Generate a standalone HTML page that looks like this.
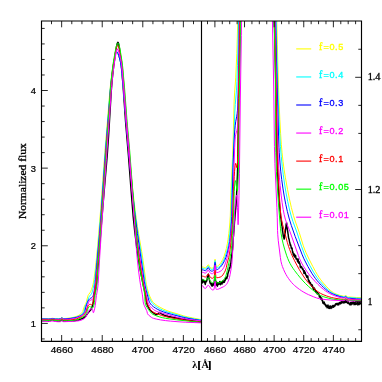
<!DOCTYPE html>
<html><head><meta charset="utf-8"><title>plot</title>
<style>html,body{margin:0;padding:0;background:#fff;}body{width:382px;height:382px;overflow:hidden;font-family:"Liberation Sans",sans-serif;}svg{display:block;}</style>
</head><body>
<svg width="382" height="382" viewBox="0 0 382 382" style="will-change:transform">
<rect width="382" height="382" fill="#fff"/>
<defs><clipPath id="cl"><rect x="41.50" y="21.00" width="160.00" height="320.30"/></clipPath>
<clipPath id="cr"><rect x="201.50" y="21.00" width="160.00" height="320.30"/></clipPath></defs>
<g clip-path="url(#cl)" fill="none" stroke-linejoin="round" stroke-linecap="round">
<path d="M39.34 320.46L39.95 320.71L40.76 320.45L41.16 320.73L41.47 320.55L41.57 320.64L41.87 320.54L42.07 320.66L42.28 320.47L42.58 320.57L42.89 320.87L43.39 320.63L44 320.83L44.51 320.50L44.61 320.34L44.81 320.39L45.22 320.74L45.73 320.44L45.93 320.59L46.84 320.46L47.55 320.75L47.86 320.64L48.06 320.86L48.46 321.01L49.28 320.58L49.48 320.65L49.68 320.50L49.88 320.62L50.49 320.53L51.41 319.98L51.61 320.04L52.52 319.59L52.83 319.62L53.33 320.10L53.74 320.29L53.94 320.24L55.06 320.82L55.26 320.78L55.67 320.93L55.77 320.82L55.97 320.92L56.27 320.85L56.48 320.98L56.78 321L56.98 321.19L57.59 320.88L58.10 321.25L58.91 321.17L59.11 320.93L59.52 320.95L59.72 321.06L60.03 320.86L60.64 320.86L61.24 320.27L61.95 319.96L62.56 320.57L62.97 320.66L63.48 321.11L63.88 320.92L63.98 320.78L64.49 320.75L64.59 320.93L65.10 321.25L65.30 321.02L65.81 320.78L65.91 320.88L66.52 320.92L66.62 321.03L66.72 320.89L67.03 320.80L67.74 320.96L68.04 320.69L68.34 320.71L68.55 320.60L68.65 320.75L69.16 321.05L69.46 320.85L69.76 320.85L69.87 320.74L70.07 320.94L70.68 320.66L70.98 320.68L71.08 320.85L71.49 320.95L71.89 320.58L72.20 320.76L72.50 320.76L72.91 320.52L73.21 320.71L73.42 320.64L73.52 320.76L74.02 320.52L74.23 320.52L74.63 320.71L74.84 320.61L74.94 320.43L75.65 320.50L76.05 320.26L76.36 320.31L76.86 320.04L77.27 320.09L77.37 320.02L77.47 320.12L77.78 320.09L77.98 320.19L78.79 319.84L78.99 319.92L79.50 319.42L80.01 319.41L80.31 319.14L80.92 319.13L81.43 318.71L82.14 318.67L82.34 318.76L82.85 318.17L83.25 318.08L83.46 318.15L84.06 317.32L84.37 317.31L84.57 317.20L84.98 316.75L85.79 316.16L86.19 315.66L86.90 314.43L87.11 314.32L87.51 313.64L88.53 312.32L88.73 312.19L89.34 311.32L89.74 310.99L89.85 310.75L90.25 310.44L90.35 310.20L90.45 310.20L90.96 309.56L92.48 305.85L92.79 304.87L93.29 301.94L94.11 295.43L94.61 292.85L95.12 291.17L96.03 287.08L96.54 283.73L97.05 278.78L101.92 217.43L107.19 155.73L108.61 135.47L111.25 91.12L112.26 78.73L113.68 66.02L115.71 51.44L116.32 47.73L117.03 44.17L117.43 43.03L117.84 42.31L118.04 42.42L118.35 42.86L118.65 43.81L119.46 48.47L120.98 61.20L121.80 69.39L123.42 90.59L125.55 121.23L128.49 156.13L131.94 201.13L133.26 217.14L134.78 231.62L137.31 251.82L139.44 265.56L141.07 274.31L145.22 293.98L145.73 296.83L146.44 301.84L147.05 304.30L147.35 305.21L147.66 305.69L147.96 306.47L148.57 307.40L148.98 308.36L149.59 309.14L149.79 309.61L150.19 310.16L150.90 310.88L151.21 311.05L151.82 311.80L152.12 311.86L152.63 312.37L152.73 312.32L152.93 312.45L153.34 312.90L153.64 312.97L154.25 313.61L154.66 313.78L155.47 314.43L155.98 314.58L156.08 314.51L156.48 314.73L156.58 314.61L156.69 314.67L156.99 314.50L157.40 314.08L158 313.84L158.31 313.38L158.61 313.32L158.71 313.14L159.02 312.98L159.22 312.64L159.83 312.46L160.24 312.72L160.44 313.07L160.84 313.43L162.06 314.10L162.37 314.44L162.67 314.62L163.38 314.79L164.09 315.25L164.49 315.26L164.80 315.57L165.51 315.55L166.12 315.92L166.22 315.90L166.32 316.05L166.62 315.93L166.83 316.03L166.93 315.92L167.03 316.04L167.44 316L167.54 316.25L167.64 316.23L168.04 316.58L168.25 316.49L168.55 316.52L168.86 316.85L169.06 316.91L169.26 316.77L169.57 316.81L169.87 317.07L169.97 316.92L170.17 316.91L170.28 316.79L170.68 316.94L170.88 317.20L171.09 317.13L171.19 317.23L171.29 317.06L171.49 316.98L171.80 317.03L171.90 317.16L172.20 317.02L172.81 317.48L172.91 317.42L173.72 317.52L174.33 317.49L174.94 317.88L175.25 317.62L175.35 317.66L175.65 317.49L175.85 317.75L176.06 317.79L176.26 317.97L176.46 317.91L176.67 318.09L176.87 317.93L177.27 317.89L177.68 318.18L178.19 318.15L178.59 318.61L178.80 318.62L179 318.49L179.40 318.69L180.01 318.54L180.32 318.67L180.82 318.61L181.53 318.90L182.45 318.88L182.85 319.13L183.36 319.20L183.66 319.50L183.97 319.37L184.17 319.12L184.37 319.32L184.68 319.40L185.19 319.30L185.79 319.58L186.71 319.83L186.81 319.75L187.01 319.85L187.11 319.75L187.32 319.82L187.42 320L187.82 320.02L188.13 319.91L188.23 319.98L188.33 319.88L188.84 319.84L189.65 320.46L189.75 320.34L189.95 320.36L190.56 320.69L190.87 320.51L191.58 320.86L191.78 320.70L192.18 320.73L192.29 320.87L192.49 320.76L192.89 320.89L193 321.01L193.10 320.97L193.20 321.08L193.71 321.12L193.81 321.01L194.31 321.26L194.52 321.16L194.72 321.21L194.92 321.07L195.13 321.27L195.43 321.21L195.63 321.44L195.73 321.33L195.84 321.36L196.04 321.58L196.34 321.47L196.85 321.76L197.46 321.47L197.66 321.64L198.07 321.71L198.17 321.64L198.27 321.72L198.47 321.65L198.78 321.73L198.88 321.66L199.49 322.05L200.10 321.88L200.60 322.15L200.91 322.03L201.62 322.15L201.92 322.31L202.02 322.20L202.23 322.25L202.33 322.17L202.43 322.27L202.53 322.17L203.04 322.25L203.24 322.38L203.75 322.29L204.46 322.57" stroke="#000000" stroke-width="1.45"/>
<path d="M39.34 318.60L45.12 318.60L48.67 318.71L50.29 318.60L52.52 318.28L55.56 318.71L58.51 318.74L60.43 318.54L60.84 318.32L61.55 317.65L61.85 317.52L62.16 317.64L62.97 318.35L63.37 318.50L64.29 318.53L66.11 318.43L69.97 317.99L73.62 317.28L76.76 316.26L78.99 315.21L80.21 314.36L81.33 313.41L82.24 312.38L82.75 311.53L83.86 307.50L84.47 306.06L85.79 303.43L86.40 301.85L87.61 296.93L88.02 295.64L88.63 294.51L89.95 292.81L90.56 291.75L91.47 289.62L92.38 286.86L93.09 284.17L93.50 282.16L94.71 273.89L96.03 262.80L97.45 248L100.39 213.01L105.16 148.36L107.70 118.20L109.52 95.15L110.33 86.36L111.96 72.69L113.28 64.07L114.59 57.65L115.30 54.64L115.91 52.85L116.22 52.36L116.52 52.20L117.03 52.43L117.54 53.07L118.04 54.06L118.65 55.64L119.46 58.29L120.38 61.79L120.98 65.23L121.69 71.44L123.72 92.41L128.39 144.97L130.72 169.73L132.55 187.69L134.78 207.26L136.10 217.57L137.41 226.60L141.67 251.39L143.09 260.30L145.93 281.78L146.44 284.59L147.25 288.21L148.77 293.69L149.69 296.15L151.11 299.17L152.32 301.21L153.44 302.57L155.16 304.15L157.19 305.61L160.84 307.71L163.89 309.25L166.93 310.59L169.97 311.72L176.87 313.72L183.77 315.95L187.62 316.88L192.69 317.92L199.28 319.18L204.46 320.05" stroke="#ffff00" stroke-width="1.00"/>
<path d="M39.34 318.78L45.12 318.78L48.67 318.89L50.29 318.78L52.52 318.46L55.56 318.89L58.51 318.92L60.43 318.72L60.84 318.51L61.55 317.84L61.85 317.71L62.16 317.83L62.97 318.54L63.48 318.71L65.10 318.71L68.04 318.52L71.69 318.02L75.04 317.33L77.78 316.50L80.01 315.56L81.02 314.93L82.04 314.07L82.95 313.02L83.66 311.94L83.96 311.15L84.57 308.27L84.98 306.99L87.11 302.18L88.73 297.54L89.44 296.24L90.86 294.63L91.47 293.75L91.98 292.65L92.48 291.11L93.19 288.30L93.90 284.86L94.71 279.44L96.54 262.78L98.26 244.30L100.70 214.56L105.26 150.74L107.90 119.21L109.62 96.30L110.44 86.84L111.86 74.38L113.28 64.60L115.30 54.27L115.91 52.35L116.22 51.88L116.42 51.80L116.93 52.03L117.43 52.66L118.04 53.87L118.65 55.52L119.46 58.23L120.48 62.22L121.09 65.99L121.80 72.40L123.52 90.45L127.47 136.38L130.52 169.34L132.44 188.70L134.88 210.68L137.01 226.99L141.98 258.84L145.02 281.16L145.53 284.07L146.44 288.34L147.35 291.99L148.17 294.71L149.28 297.70L150.50 300.36L151.51 302.06L152.83 303.64L154.56 305.27L156.58 306.78L159.42 308.51L162.37 310L165 311.11L167.64 312.03L173.62 313.70L180.32 315.75L184.88 316.97L188.63 317.80L194.72 318.96L199.69 319.79L204.46 320.46" stroke="#00ffff" stroke-width="1.00"/>
<path d="M39.34 319L45.12 319L48.67 319.11L50.29 319L52.52 318.68L55.56 319.12L58.51 319.16L60.43 318.96L60.84 318.75L61.55 318.08L61.85 317.95L62.16 318.07L62.97 318.78L63.37 318.94L65.91 318.90L70.17 318.50L74.33 317.83L77.17 317.15L80.01 316.10L81.53 315.32L82.64 314.52L83.35 313.78L84.37 312.36L84.88 311.32L85.59 308.07L86.60 304.49L87.31 302.65L88.12 300.90L88.83 299.74L89.54 298.97L90.25 298.43L91.77 297.61L92.48 297.01L92.89 296.51L93.19 295.69L94.21 290.69L95.22 283.13L99.58 233.57L101.51 208.55L105.67 150.15L110.54 87.31L111.75 76.41L113.17 66.27L115.30 53.97L115.81 52.02L116.12 51.41L116.32 51.30L116.83 51.53L117.43 52.33L118.04 53.63L118.65 55.34L119.46 58.15L120.48 62.22L121.09 65.99L121.90 73.37L123.42 89.49L126.87 131.49L130.11 167.68L132.44 191.45L134.98 214.47L137.41 233.37L144.21 281.16L144.92 285.09L145.93 289.67L148.98 300.92L149.48 302.22L150.60 303.94L151.82 305.33L153.34 306.64L155.57 308.19L157.80 309.47L160.34 310.67L163.48 311.92L166.22 312.82L171.49 314.34L183.56 317.46L189.04 318.54L194.42 319.47L199.49 320.21L204.46 320.81" stroke="#0000ff" stroke-width="1.00"/>
<path d="M39.34 319.34L45.02 319.33L48.77 319.44L50.29 319.33L52.52 319.02L55.67 319.47L58.61 319.51L60.53 319.30L60.94 319.05L61.55 318.46L61.85 318.34L62.16 318.45L62.97 319.17L63.48 319.34L68.14 319.25L70.98 319.06L73.72 318.69L76.15 318.07L78.18 317.37L80.92 316.06L82.14 315.36L84.27 313.59L85.28 312.52L85.99 311.30L87.72 304.90L88.63 302.32L89.14 301.19L89.44 300.76L90.05 300.32L91.77 299.71L92.38 299.38L92.89 298.94L93.19 298.24L93.90 295.18L94.31 292.98L95.63 283.26L97.05 268.62L98.47 252.31L101.21 217.70L103.34 188.25L105.87 151.31L108.41 119.13L110.03 96.25L110.84 86.42L112.26 73.97L113.68 64.37L115.30 55.64L116.01 52.31L116.72 50.05L117.03 49.55L117.33 49.40L117.84 49.72L118.35 50.55L118.85 51.83L119.46 53.88L120.27 57.32L121.19 61.84L121.80 66.36L123.62 88.18L125.65 115.99L126.56 127.22L133.26 205.08L134.27 215.83L135.28 224.87L137.31 240.20L143.09 279.37L144.31 286.10L146.54 295.69L147.86 302.18L148.57 303.86L149.48 305.46L150.40 306.65L151.82 308.10L153.34 309.39L154.96 310.51L156.58 311.37L158.41 312.08L164.39 313.68L176.16 317.05L179.51 317.87L184.68 318.78L190.36 319.60L196.55 320.35L204.46 321.16" stroke="#ff00ff" stroke-width="1.00"/>
<path d="M39.34 319.88L45.02 319.87L48.77 319.98L50.29 319.87L52.52 319.56L55.77 320.05L59.01 320.15L60.53 319.98L60.94 319.74L61.55 319.16L61.85 319.04L62.16 319.16L62.97 319.89L63.37 320.04L67.33 320.04L70.27 319.93L72 319.77L75.04 319.29L76.76 318.86L81.12 317.01L82.44 316.22L83.46 315.39L85.08 313.50L85.69 312.55L86.50 310.56L87.51 307.45L88.43 305.54L89.24 304.64L89.85 304.27L90.35 304.31L91.57 304.83L91.98 304.81L92.48 304.23L93.09 302.84L94 295.29L95.53 286.95L96.13 282.49L98.67 254.11L101.10 222.97L105.97 152.89L108.51 120.63L110.33 93.98L111.15 84.05L112.06 75.02L112.87 68.10L113.48 63.73L114.80 55.68L115.61 51.09L116.32 47.89L116.93 46.10L117.23 45.64L117.54 45.50L117.74 45.57L118.04 45.87L118.55 46.82L119.16 48.63L119.77 51.06L120.68 55.59L121.80 62.01L122.40 66.93L124.33 89.80L126.56 119.41L129.30 151.10L133.76 206.90L135.08 221.32L137.11 240.36L139.24 257.70L141.57 273.86L143.40 284.59L145.63 295.07L146.64 301.51L146.95 302.75L147.56 304.43L148.37 306.05L150.60 309.72L151.31 310.69L151.92 311.33L152.93 312.02L154.25 312.67L161.55 315.43L165.10 316.46L169.36 317.45L175.85 318.70L182.04 319.74L186.81 320.43L191.37 320.96L198.37 321.65L204.46 322.13" stroke="#ff0000" stroke-width="1.00"/>
<path d="M39.34 320.38L45.02 320.37L48.77 320.47L50.29 320.37L52.52 320.05L55.97 320.62L58 320.76L59.62 320.76L60.64 320.61L61.55 319.85L61.85 319.73L62.16 319.86L62.97 320.59L63.37 320.75L67.33 320.77L72.91 320.44L74.94 320.18L76.66 319.83L78.59 319.11L80.41 318.18L82.14 317.45L83.15 316.88L84.06 316.20L84.77 315.45L85.38 314.25L86.19 313.28L86.60 312.64L87.41 310.68L88.12 308.15L88.83 307.10L89.34 306.69L89.85 306.66L90.45 306.95L91.77 307.89L92.48 308.11L92.69 307.98L92.99 307.47L93.90 305.22L94.21 303.99L94.41 302.64L95.12 295.10L96.44 287.76L96.95 283.39L98.06 264.35L100.50 233.18L101.92 213.61L108.41 120.07L110.13 93.21L110.84 84.19L111.75 74.81L112.57 67.74L113.17 63.37L114.59 54.89L115.61 49.39L116.42 45.89L116.83 44.58L117.23 43.64L117.64 43.10L117.94 43L118.35 43.32L118.85 44.41L119.36 46.15L119.97 48.95L120.78 53.56L122.10 62.11L122.71 67.13L124.63 89.05L127.07 121.19L129.71 150.78L133.15 196.17L137.92 252.36L138.83 260.66L140.05 269.09L142.89 285.15L143.91 289.47L144.31 291.71L144.82 296.15L145.02 301.82L145.12 302.73L145.53 304.48L146.14 305.96L146.95 307.10L148.27 309.27L149.79 311.29L151.61 313.40L152.83 314.26L154.35 315.05L156.58 315.93L159.12 316.78L162.26 317.62L165.71 318.32L169.77 318.95L176.56 319.84L188.84 321.19L204.46 322.44" stroke="#00ff00" stroke-width="1.00"/>
<path d="M39.34 321.12L41.37 321.06L44.10 321.14L48.36 321.59L51.61 321.17L52.62 321.13L57.19 321.71L59.22 321.76L60.53 321.64L60.94 321.36L61.55 320.70L61.85 320.56L62.16 320.69L63.07 321.56L63.88 321.71L73.52 321.32L78.28 320.89L80.11 320.50L81.83 319.96L84.06 318.72L84.88 318.11L85.59 317.19L87.92 312.98L89.24 310L89.54 309.67L90.45 309.04L91.27 308.70L91.87 308.67L92.18 309.12L92.69 310.38L93.29 312.62L93.40 312.75L93.50 312.72L93.80 311.97L94.71 308.31L95.22 305.63L96.44 295.50L97.66 288.11L98.16 283.57L99.79 255.70L102.02 221.38L106.38 159.32L111.65 86.34L112.97 73.58L114.19 64.28L116.22 51.90L116.83 49.62L117.13 49.08L117.33 49L117.84 49.34L118.45 50.47L119.06 52.25L119.67 54.57L121.29 62.38L122.10 68.77L123.92 88.92L126.36 119.59L129.20 151.65L131.94 189.09L134.57 223.32L136.30 247.54L137.11 257.50L138.33 268.98L139.65 279.16L140.66 285.81L142.28 294.17L142.69 296.98L143.20 301.91L143.70 303.97L144.21 305.30L146.64 310.59L147.05 311.79L147.46 313.57L147.76 314.14L148.47 314.97L151.41 317.35L152.22 317.86L153.44 318.33L156.69 319.16L160.34 319.86L165.41 320.59L170.58 321.14L177.98 321.73L185.69 322.22L204.46 322.98" stroke="#ff00ff" stroke-width="1.00"/>
</g>
<g clip-path="url(#cr)" fill="none" stroke-linejoin="round" stroke-linecap="round">
<path d="M198.61 280.48L198.68 281.07L198.83 281.27L198.98 282.20L199.05 282.24L199.13 281.80L199.20 282.13L199.42 280.68L199.57 280.63L199.65 280.38L199.94 282.41L200.02 282.34L200.16 281.13L200.24 281.77L200.39 281.07L200.46 281.06L200.61 281.92L200.76 280.51L200.83 281.10L200.98 281.27L201.20 283.45L201.27 282.70L201.35 282.54L201.42 282.80L201.57 281.65L201.72 282.43L201.79 282.58L201.87 282.35L201.94 282.54L202.02 283.15L202.39 280.76L202.46 279.58L202.61 279.92L202.90 282.47L202.98 281.71L203.05 282.05L203.13 280.92L203.20 280.96L203.27 280.33L203.42 281.42L203.57 281.23L203.64 281.37L203.72 281.17L203.79 281.31L203.87 280.45L203.94 280.47L204.01 280.92L204.09 280.43L204.38 281.92L204.53 282.15L204.61 282.53L204.83 281.78L204.98 283.31L205.13 283.62L205.27 284.46L205.42 283.30L205.57 282.58L205.64 282.67L205.72 282.42L205.87 281.32L206.01 281.82L206.16 280.74L206.31 281.64L206.46 280.98L206.53 280.91L206.61 281.30L206.75 280.95L206.83 280.24L206.90 280.39L206.98 280.03L207.42 277.01L207.57 277.39L207.64 276.65L207.72 276.60L208.24 274.15L208.31 274.48L208.38 274.24L208.46 274.37L208.83 277.84L209.12 279.22L209.20 278.89L209.27 278.89L210.09 283.06L210.23 282.73L210.53 283.84L210.61 283.04L210.75 283.78L210.83 283.43L210.90 283.76L210.98 283.30L211.12 284.18L211.20 283.91L211.27 284.58L211.35 284.34L211.49 285.75L211.94 283.48L212.01 283.52L212.31 286.14L212.38 285.80L212.46 285.96L212.53 285.51L212.60 285.71L212.68 285.44L212.90 285.58L213.05 283.87L213.12 283.85L213.27 284.31L213.34 284L213.49 284.82L213.72 283.37L213.79 283.39L213.86 283.17L214.01 283.58L214.09 283.17L214.16 283.38L214.60 279.05L214.68 279.03L214.83 277.93L214.90 278.03L214.97 277.23L215.05 277.32L215.12 276.81L215.57 281.24L215.64 281.19L215.71 281.72L215.79 281.59L215.86 281.91L216.23 285.15L216.53 283.76L216.68 282.52L216.90 282.76L216.97 282.54L217.05 283.87L217.42 286.15L217.57 284.49L217.94 282.80L218.01 283.50L218.08 283.14L218.23 283.65L218.31 283.49L218.38 284.08L218.45 283.81L218.53 284.55L218.60 283.53L218.68 283.56L218.82 282.89L218.90 282.89L219.12 283.91L219.34 284.04L219.57 282.09L219.64 282.21L219.79 282.23L219.86 281.53L219.94 281.47L220.01 282.56L220.23 283.37L220.38 284.71L220.45 284.66L220.60 283.30L220.75 283.02L220.82 283.30L220.90 282.45L221.05 283.90L221.19 283.08L221.34 282.96L221.49 281.93L221.64 282.26L221.71 282.07L221.79 283.27L221.86 283.22L221.93 283.90L222.01 283.60L222.08 284.02L222.38 281.32L222.60 282.61L222.68 282.39L222.82 282.60L223.12 280.91L223.34 282.24L223.49 281.77L223.56 282.63L223.64 282.36L223.71 282.36L223.93 280.90L224.01 281.03L224.08 280.88L224.23 281.16L224.38 282.26L224.45 281.58L224.53 281.56L224.60 280.22L224.75 280L224.90 280.59L225.04 280.79L225.12 280.73L225.42 279.04L225.49 279.10L225.56 278.83L225.64 279.38L225.71 278.53L226.01 277.43L226.16 277.74L226.23 277.65L226.30 277.80L226.38 277.28L226.45 277.98L226.53 277.81L226.60 278.15L226.67 277.78L226.75 278.30L226.82 278.48L226.90 278.37L227.19 276.98L227.27 276.99L227.41 275.94L227.56 276.54L227.93 272.96L228.15 272.58L228.30 272.85L228.53 270.91L228.60 270.80L228.67 271.10L228.82 270.66L228.97 270.88L229.34 267.84L229.49 267.96L229.56 267.51L229.71 267.78L229.86 267.54L230.01 268.13L230.38 263.91L230.52 263.68L230.60 263.86L230.67 263.27L230.82 263.73L231.27 257.74L231.34 257.96L231.41 257.57L231.49 257.70L231.56 256.86L231.64 256.91L231.93 253.66L232.52 249.37L232.82 245.75L233.34 236.85L233.49 236.08L234.52 221.65L234.67 220.72L235.12 214.42L235.41 212L235.49 210.31L235.56 210.25L235.78 208.01L235.86 206.29L235.93 206.28L236.30 201.71L237.41 174.88L237.63 167.82L237.93 151.76L238.60 99.56L238.97 80.93L239.34 68.79L240 39.26L240.67 -9L273.77 -9L275.92 89.09L276.81 145.89L277.47 170.22L277.92 179.32L278.36 186.08L278.66 193.02L279.10 198.61L279.55 206.02L280.06 211.23L280.29 212.46L280.73 217.88L280.80 217.73L280.95 218.29L281.32 222L281.40 221.60L281.55 222.60L281.84 225.80L281.92 225.77L281.99 225.91L282.06 226.35L282.51 230.99L282.58 230.93L282.80 232.20L283.40 236.85L283.54 236.90L283.77 237.95L283.84 237.46L283.99 238.71L284.06 238.72L284.14 239.07L284.21 238.21L284.28 238.59L284.51 237.41L284.80 234.35L285.10 232.77L285.17 233.09L285.25 232.63L285.47 229.31L285.69 228.83L285.77 227.54L285.99 226.43L286.14 223.96L286.21 224.04L286.28 223.89L286.58 222.68L286.88 224.52L287.02 227.08L287.17 227.82L287.32 229.66L287.39 229.70L287.62 230.88L288.06 234.14L288.21 234.46L288.43 236.94L288.65 238.23L288.80 238.43L288.88 238.38L288.95 239.07L289.10 239.53L289.17 239.49L289.69 242.79L289.76 242.58L289.84 242.96L289.91 242.70L289.99 242.90L290.21 245.12L290.36 245.45L290.51 244.69L290.58 245.41L290.73 244.99L290.95 246.34L291.02 246.26L291.17 247.62L291.25 247.49L291.32 248.56L291.54 247.69L291.69 248.45L291.76 247.67L291.84 248.53L291.91 248.63L292.06 248.56L292.13 248.22L292.21 250.04L292.28 249.92L292.58 252.44L292.73 251.75L292.80 252.05L292.87 251.78L292.95 252L293.17 254.37L293.24 254.35L293.32 254.79L293.47 253.80L293.54 253.82L293.62 254.14L293.69 254.07L293.91 255.97L293.99 254.88L294.13 254.80L294.21 253.90L294.50 254.99L294.65 256.89L294.80 256.42L294.87 257.13L294.95 255.89L295.10 255.28L295.17 255.63L295.32 255.70L295.39 256.64L295.61 255.57L296.06 258.95L296.13 258.46L296.21 258.56L296.28 258.52L296.58 259.06L296.65 258.76L296.73 259.21L296.95 258.92L297.02 259.36L297.17 259L297.39 260.88L297.47 260.79L297.61 261.82L297.84 259.91L297.91 260.20L297.98 259.47L298.13 259.02L298.28 260.85L298.35 260.79L298.43 261.14L298.58 262.48L298.65 262.45L298.72 261.99L298.87 263.34L299.02 262.21L299.17 262.38L299.32 261.91L299.61 263.99L299.69 263.82L299.76 264.03L299.84 263.82L299.91 264.08L299.98 263.79L300.28 267.11L300.35 266.85L300.43 267.14L300.58 266.20L300.65 266.70L300.72 266.54L300.87 267.67L300.95 267.17L301.02 267.54L301.09 266.86L301.32 266.55L301.54 267.54L301.61 267.18L301.69 267.58L301.91 267.10L302.06 268.02L302.28 268.39L302.43 269.20L302.58 268.91L302.65 269.23L302.72 269.21L302.87 268.72L303.02 269.13L303.09 269.01L303.39 270.81L303.46 270.70L303.54 270.74L303.76 271.37L303.98 273.52L304.20 272.54L304.35 270.78L304.50 272.22L304.57 272.45L304.65 272.34L304.72 272.81L304.87 272.69L304.94 271.94L305.09 272.08L305.54 274.13L305.61 273.94L305.83 275.03L305.91 275.18L305.98 275.01L306.20 275.91L306.28 275.33L306.43 276.05L306.50 275.36L306.65 275.85L306.72 277.15L306.87 276.95L306.94 277.25L307.02 277.25L307.24 276.45L307.31 276.97L307.39 276.24L307.46 276.60L307.61 275.88L307.68 276.19L307.76 275.98L307.83 277.03L307.91 276.61L307.98 278L308.35 280.45L308.43 279.60L308.50 280.07L308.57 279.73L308.80 281.39L309.02 282.11L309.24 280.78L309.54 282.71L309.76 283.37L309.91 282.21L310.05 282.75L310.20 282.43L310.28 283.44L310.42 282.66L310.57 283.53L310.72 283.55L310.79 284.40L310.87 284.12L310.94 284.95L311.09 285.25L311.24 284.97L311.31 285.26L311.39 284.42L311.76 286.22L311.91 285.53L311.98 285.90L312.05 285.91L312.20 284.85L312.35 286.32L312.50 286.19L312.57 285.90L312.72 287.52L312.79 286.77L312.87 286.99L313.02 288.54L313.16 287.73L313.24 287.77L313.39 288.66L313.53 288.98L313.61 289.84L313.68 289.88L313.76 289.07L313.98 288.53L314.05 287.76L314.20 288.99L314.28 288.85L314.50 289.48L314.57 288.97L314.65 289.55L314.79 289.06L315.02 289.65L315.09 289.11L315.53 291.96L315.76 291.64L315.90 290.70L315.98 290.75L316.35 292.69L316.57 291.80L316.72 292.25L316.79 292.03L316.87 292.09L316.94 292.80L317.01 293L317.09 292.70L317.16 293.53L317.24 293.19L317.31 293.85L317.39 293L317.53 293.36L317.61 292.83L317.68 293.57L317.76 292.81L317.83 292.83L317.98 293.38L318.05 293.44L318.13 293.37L318.20 294.29L318.27 294.36L318.42 294.24L318.57 293.61L318.64 293.65L318.87 294.93L318.94 294.70L319.01 295.21L319.09 294.92L319.16 295.67L319.31 295.12L319.38 297L319.53 297.07L319.61 296.56L319.68 296.52L319.75 296.99L319.83 296.13L320.05 297.15L320.13 296.64L320.20 296.74L320.35 296.53L320.57 298.18L320.64 298.17L320.79 299.05L320.87 299.02L320.94 298.53L321.16 299.06L321.24 298.28L321.31 298.27L321.38 299.18L321.61 297.94L321.75 299.66L321.83 298.90L322.05 300.55L322.20 299.16L322.42 300.45L322.49 300.45L322.86 303.10L322.94 303.14L323.01 302.86L323.09 302.19L323.24 302.67L323.31 302.02L323.61 303.69L323.68 302.50L323.90 303.50L324.05 302.25L324.12 303.09L324.20 302.97L324.27 303.01L324.35 302.28L324.42 303.44L324.49 303.22L324.94 304.76L325.01 304.47L325.23 304.76L325.31 304.42L325.53 304.87L325.60 304.53L325.75 305.71L325.83 305.55L326.05 306.60L326.20 305.83L326.27 306.19L326.42 305.64L326.57 306.03L326.64 305.52L326.79 305.58L327.16 307.76L327.46 306.71L327.53 306.83L327.68 305.40L327.75 305.64L327.83 305.38L327.90 305.49L327.97 304.87L328.12 307.05L328.20 306.79L328.42 307.82L328.49 307.89L328.71 306.57L328.79 306.83L328.94 306.37L329.16 308.41L329.23 308.13L329.31 308.38L329.46 308.06L329.53 308.28L329.75 306.65L329.90 306.45L329.97 306.02L330.12 306.67L330.20 306.51L330.27 306.87L330.34 305.94L330.49 306.56L330.57 306.47L330.64 307.29L330.71 307.18L331.01 308.44L331.16 307.62L331.23 307.76L331.38 306.91L331.53 306.58L331.82 307.85L331.90 307.15L332.20 306.05L332.34 307.06L332.42 306.88L332.49 307.08L332.57 307.01L332.79 305.57L332.86 306L333.01 305.74L333.08 306.32L333.23 305.58L333.60 307.18L333.90 306.26L333.97 306.67L334.05 306.27L334.12 306.35L334.19 305.65L334.34 305.95L334.42 305.23L334.56 306.07L334.64 306.20L334.79 305.66L334.86 306.03L335.01 305.20L335.08 305.68L335.23 305.04L335.38 304.93L335.53 303.93L335.68 304.74L335.75 304.07L335.82 304.68L335.90 304.63L335.97 304.75L336.12 304.10L336.19 304.35L336.27 303.59L336.34 304.10L336.49 303.80L336.56 304.04L336.64 303.89L336.79 304.17L336.86 303.96L336.93 303.97L337.01 303.63L337.08 303.59L337.30 304.10L337.38 303.60L337.45 303.89L337.67 303.55L337.82 304.79L337.90 304.72L337.97 304.99L338.12 304.58L338.19 304.64L338.27 303.45L338.34 303.99L338.42 303.89L338.56 304.53L338.64 303.81L338.71 304.80L338.79 304.24L338.86 304.25L339.01 303.58L339.08 303.66L339.16 302.99L339.38 302.42L339.53 303.11L339.60 302.98L339.67 303.17L339.75 302.89L339.90 303.55L339.97 302.76L340.27 303.89L340.34 303.05L340.41 303.68L340.56 302.69L340.64 303.60L340.71 303.11L340.79 303.62L341.08 302.15L341.16 302.14L341.23 301.29L341.38 300.95L341.67 303.05L341.75 303.09L341.82 302.42L342.19 301.13L342.27 302.06L342.34 301.92L342.41 301.10L342.49 301.13L342.64 302L342.71 301.90L342.93 302.53L343.01 302.24L343.08 302.32L343.23 301.28L343.45 302.64L343.52 302.19L343.60 302.22L343.75 302.92L343.82 302.24L343.97 301.82L344.04 302.49L344.19 301.97L344.41 302.85L344.64 301.84L344.71 300.87L344.86 300.84L344.93 300.60L345.01 301.71L345.08 301.67L345.15 302.43L345.67 299.73L345.75 300.15L345.97 300.23L346.41 302.58L346.63 301.60L346.71 301.56L346.86 300.63L346.93 300.50L347.01 300.75L347.08 300.28L347.23 300.75L347.30 301.61L347.38 301.28L347.52 302.24L347.60 301.70L347.67 302.07L347.75 302.02L347.82 303.39L347.89 303.42L347.97 302.83L348.04 303.21L348.26 301.59L348.41 302.63L348.49 302.47L348.63 303.27L348.78 302.60L348.93 303.30L349 303.05L349.23 304.12L349.30 303.75L349.37 303.70L349.52 304.07L349.67 303.63L349.89 304.78L350.04 304.57L350.26 303.30L350.34 303.32L350.56 302.60L350.71 302.89L350.78 302.69L351.08 304.87L351.30 303.69L351.37 303.72L351.52 302.51L351.67 303.64L351.89 302.29L352.04 302.57L352.11 301.90L352.34 303.91L352.48 303.03L352.56 302.87L352.63 303.09L352.71 303.06L352.78 302.27L353.08 303.14L353.15 302.05L353.23 302.48L353.30 302.14L353.37 302.64L353.45 302.67L353.52 301.81L353.74 303.82L353.82 304.01L353.89 303.75L354.04 304.67L354.26 302.42L354.34 303.28L354.41 303.23L354.48 302.25L354.71 304.19L354.93 304.32L355.22 302.34L355.52 304.29L355.67 304.52L355.97 303.59L356.11 304.37L356.19 303.80L356.26 303.59L356.34 303.93L356.41 303.84L356.56 303.06L356.63 303.61L356.71 303.64L356.78 303.13L357.08 303.27L357.15 303.16L357.22 303.79L357.45 302.26L357.59 303.02L357.67 302.95L357.82 304.48L357.96 304.93L358.11 304.20L358.19 304.24L358.26 303.65L358.33 303.86L358.41 303.40L358.56 303.47L358.78 302.62L358.93 302.94L359.15 304.61L359.37 303.01L359.45 303.22L359.59 302.49L359.82 303.78L359.89 303.14L360.04 303.44L360.19 303.03L360.41 302.91L360.63 303.51L360.70 303.33L360.85 303.68L360.93 303.51L361 304.01L361.07 303.58L361.15 303.73L361.30 303.13L361.37 303.18L361.44 302.87L361.52 302.85L361.59 302.20L361.82 301.91L362.04 302.74L362.11 302.70L362.63 305.37L362.78 304.04L362.85 304.15L362.93 303.73" stroke="#000000" stroke-width="1.45"/>
<path d="M198.61 267L202.83 267.04L203.57 267.21L204.83 267.79L205.42 267.82L206.01 267.55L206.61 267.03L207.79 265.04L208.01 264.79L208.24 264.71L208.61 265.01L209.64 266.85L210.46 267.79L210.90 268.04L211.49 268.16L212.09 268.17L212.60 268.03L213.64 267.26L214.01 266.56L214.31 265.02L214.83 260.16L215.05 259.24L215.27 260.06L215.86 265.18L216.16 266.27L216.46 266.55L216.97 266.49L217.64 266.15L218.45 265.49L220.16 263.71L221.27 262.16L222.75 259.41L224.01 256.48L225.19 252.79L226.38 248.36L227.34 243.78L228.01 239.62L228.82 233.45L229.41 228.01L229.93 222.05L230.30 215.95L231.12 186.76L232.52 157.36L232.97 145.97L234.15 101.07L234.60 92.91L235.78 77.15L236.82 53.61L237.78 21.25L238.37 -9L276.21 -9L276.29 -8.53L276.73 17.59L277.32 44.31L278.51 87.01L279.10 103.04L279.84 119.37L280.58 133.22L281.32 144.36L282.06 152.69L283.03 161.42L284.06 169.22L285.32 177.16L287.54 189.49L289.39 198.78L291.39 207.60L293.47 215.53L295.17 221L299.17 232.21L303.32 245.78L304.50 249L306.06 252.76L309.31 259.63L312.87 266.56L315.53 271.49L317.39 274.68L319.16 277.50L320.79 279.85L322.42 281.92L326.79 286.90L328.57 288.72L330.27 290.31L331.90 291.63L333.38 292.65L334.79 293.43L336.34 294.08L339.97 295.33L343.38 296.16L344.34 296.16L345.60 295.57L346.04 295.54L346.56 295.91L347.45 297.07L347.82 297.25L348.71 297.02L349.23 296.98L356.56 297.50L362.93 297.80" stroke="#ffff00" stroke-width="1.00"/>
<path d="M198.61 268.31L202.83 268.33L203.57 268.50L204.83 269.09L205.42 269.12L206.01 268.85L206.61 268.33L207.79 266.34L208.01 266.09L208.24 266.01L208.61 266.31L209.64 268.15L210.46 269.10L210.90 269.35L211.49 269.47L212.09 269.50L212.60 269.36L213.64 268.60L214.01 267.91L214.31 266.37L214.83 261.52L215.05 260.61L215.27 261.43L215.86 266.57L216.01 267.26L216.23 267.78L216.46 267.95L216.68 267.97L217.49 267.75L218.45 267.23L219.71 266.33L220.82 265L222.53 262.32L223.86 259.69L225.12 256.68L226.30 253.08L227.49 248.76L228.30 245.06L228.90 241.55L230.01 232L230.97 218.85L231.19 213.18L231.64 192.34L231.93 183.13L233.49 148.34L234.75 113.11L235.26 104.42L236.45 90.90L236.97 81.35L237.49 65.79L238 44.73L238.52 19.34L238.97 -9L275.62 -9L276.73 45.12L277.84 87.44L279.10 121.17L279.77 135.19L280.43 146.41L281.25 156.47L282.21 166.19L283.25 174.80L284.43 183.04L286.06 192.89L287.69 201.40L289.39 209.06L291.25 216.16L292.95 221.54L296.80 232L301.54 246.42L304.06 253.18L305.91 257.68L309.61 265.15L313.46 272.05L316.94 277.45L318.64 279.77L320.27 281.75L325.01 286.91L327.01 288.85L328.86 290.47L330.64 291.82L332.27 292.87L333.68 293.60L335.90 294.53L339.75 295.85L343.30 296.71L344.34 296.71L345.60 296.11L346.04 296.08L346.56 296.45L347.45 297.61L347.82 297.79L348.71 297.57L349.30 297.54L356.93 298.14L362.93 298.50" stroke="#00ffff" stroke-width="1.00"/>
<path d="M198.61 269.93L202.83 269.90L203.57 270.08L204.83 270.66L205.42 270.69L206.01 270.42L206.61 269.91L207.79 267.94L208.01 267.69L208.24 267.62L208.61 267.92L209.64 269.78L210.46 270.73L210.90 270.99L211.49 271.12L212.09 271.16L212.60 271.02L213.64 270.30L214.01 269.61L214.31 268.08L214.83 263.25L215.05 262.35L215.27 263.17L215.86 268.34L216.08 269.27L216.31 269.65L216.53 269.77L216.83 269.77L217.71 269.41L218.60 268.75L220.08 267.42L221.49 265.79L223.27 263.07L224.60 260.55L225.86 257.58L226.90 254.36L228.15 249.57L228.97 245.80L229.71 241.46L230.23 237.53L230.67 233.08L231.49 221.92L231.78 216.39L232.38 190.95L233.04 167.32L233.71 150.04L234.45 135.17L234.82 129.76L235.26 125.19L235.78 121.23L236.74 116.21L237.12 113.72L237.49 110.20L237.78 105.97L238.30 85.01L238.74 60.77L239.63 -9L275.03 -9L275.92 35.46L276.81 72.50L278.58 136.95L278.95 147.13L279.25 152.45L279.99 162.94L280.80 171.86L281.69 179.44L283.03 188.91L284.36 197.06L285.77 204.37L287.39 211.60L289.32 219.02L291.32 225.43L295.17 236.40L301.98 254.19L303.91 258.78L307.91 266.55L311.76 273.15L313.61 275.98L315.39 278.47L317.09 280.62L318.87 282.63L321.38 285.30L323.68 287.55L325.83 289.46L327.83 291.05L329.60 292.27L331.38 293.30L333.53 294.30L335.97 295.29L339.75 296.55L343.30 297.38L344.34 297.37L345.60 296.78L346.04 296.76L346.56 297.14L347.45 298.31L347.82 298.50L348.71 298.29L349.23 298.26L356.41 298.91L362.93 299.30" stroke="#0000ff" stroke-width="1.00"/>
<path d="M198.61 272.36L202.76 272.27L203.57 272.46L204.83 273.05L205.50 273.06L206.09 272.77L206.61 272.31L207.79 270.34L208.01 270.09L208.24 270.02L208.61 270.32L209.72 272.33L210.53 273.28L210.98 273.53L211.72 273.71L212.23 273.74L212.68 273.62L213.72 272.91L214.09 272.07L214.38 270.23L214.83 266.01L215.05 265.11L215.27 265.95L215.86 271.13L216.08 272.07L216.31 272.45L216.60 272.58L217.05 272.57L218.45 272.21L220.31 271.34L221.56 270.50L222.75 269.12L223.86 267.35L224.82 265.03L225.93 261.81L226.82 258.69L227.56 255.59L229.19 247.52L229.86 243.61L231.71 228.04L232.23 222.11L232.60 216.04L234 165.64L234.67 147.52L235.04 139.95L235.34 136.83L235.71 134.50L236.08 133.02L236.82 130.75L237.26 128.61L237.71 124.92L237.86 122.07L238.45 97.78L238.82 77.33L239.93 -8.70L240 -9L274.44 -9L275.40 39.07L276.95 104.79L277.69 142.93L278.29 158.96L278.81 168.61L279.40 177.12L280.14 185.38L281.17 195.07L282.14 202.67L283.17 209.42L284.21 214.75L285.32 219.11L286.80 223.60L289.91 231.47L298.43 255.64L299.61 258.73L300.65 261.10L302.06 263.77L303.76 266.72L307.17 271.95L310.79 276.69L314.94 281.32L318.05 284.47L320.72 287L323.16 289.13L325.46 290.93L327.46 292.29L329.31 293.35L331.97 294.61L334.71 295.75L339.01 297.19L341.08 297.72L343.08 298.10L344.27 298.13L345.60 297.51L346.04 297.49L346.56 297.87L347.45 299.04L347.82 299.23L348.71 299.01L349.23 298.99L355.82 299.56L362.93 299.90" stroke="#ff00ff" stroke-width="1.00"/>
<path d="M198.61 276.26L202.76 276.17L203.57 276.36L204.83 276.95L205.50 276.96L206.09 276.67L206.61 276.21L207.79 274.24L208.01 273.99L208.24 273.92L208.61 274.24L209.72 276.37L210.61 277.52L211.12 277.88L212.01 278.24L212.46 278.29L212.97 278.18L213.72 277.78L214.09 277.01L214.38 275.23L214.83 271.08L215.05 270.21L215.27 271.08L215.86 276.31L216.08 277.26L216.31 277.65L216.53 277.77L216.97 277.78L218.75 277.50L220.90 276.80L221.64 276.34L222.82 274.99L224.38 272.51L225.19 270.90L225.93 268.89L226.30 267.59L227.12 263.50L228.75 257.33L229.41 253.92L230.08 249.80L230.97 242.29L232.01 230.16L232.38 224.69L233.04 208.88L233.78 186.42L234.23 176.36L234.52 171.73L235.12 165.48L235.49 163.44L235.63 163.31L235.86 163.75L236.74 167.53L236.89 167.70L237.04 167.32L237.41 163.15L237.78 155.45L238 144.04L238.52 98.54L239.63 38.26L240.30 -9L273.99 -9L276.21 97.01L277.03 147.16L277.47 160.99L277.99 172.36L279.84 202.83L280.43 210.70L280.95 215.66L281.69 220.28L282.51 224.17L287.39 242.60L288.51 246.24L289.69 249.61L291.17 253.39L292.80 257.13L294.58 260.80L296.87 265.14L299.24 269.41L301.46 273.16L304.87 278.32L306.50 280.50L308.05 282.38L310.50 284.99L312.94 287.42L315.16 289.44L317.24 291.13L318.94 292.36L320.57 293.37L321.98 294.10L323.90 294.94L326.35 295.89L328.86 296.74L331.38 297.44L333.90 298.02L338.93 298.87L343.45 299.44L344.34 299.36L345.52 298.72L345.97 298.63L346.41 298.85L347.38 300.05L347.82 300.29L348.71 300.03L349.30 299.97L357.22 300.30L362.93 300.40" stroke="#ff0000" stroke-width="1.00"/>
<path d="M198.61 279.86L202.76 279.77L203.57 279.96L204.83 280.55L205.50 280.56L206.09 280.27L206.61 279.81L207.79 277.84L208.01 277.59L208.24 277.52L208.61 277.87L209.86 280.39L210.75 281.62L211.49 282.20L212.23 282.63L212.75 282.73L213.42 282.64L213.86 282.35L214.16 281.51L214.83 276.03L215.05 275.20L215.27 276.09L215.86 281.39L216.08 282.35L216.38 282.80L216.75 282.89L217.57 282.86L219.64 282.55L220.90 281.96L222.53 280.82L223.64 279.72L224.67 278.28L225.56 276.67L226.16 275.02L227.34 270.40L228.60 264L229.78 259.05L230.75 253.59L231.34 249.03L231.71 245.19L232.23 235.57L233.04 225.29L233.71 209.76L234.23 191.48L234.82 183.11L235.19 180.65L235.34 180.51L235.56 180.95L235.93 182.81L236.89 189.63L237.19 190.90L237.41 191.19L237.71 188L238.23 176.89L238.74 157.48L239.34 97.21L240.45 33.71L240.82 -9L273.55 -9L275.25 72.72L275.62 104.79L275.84 152.34L276.36 171.27L278.36 202.74L280.51 228.73L281.17 233.83L282.14 239.27L283.17 243.86L284.58 249.05L286.73 255.79L287.77 258.54L288.88 261.11L290.13 263.62L291.47 265.96L292.95 268.26L294.65 270.65L297.61 274.52L300.35 277.89L303.02 280.94L305.61 283.66L308.35 286.27L312.50 289.83L315.39 292.16L317.83 293.91L320.79 295.62L323.90 296.83L328.86 298.31L333.53 299.26L338.19 299.78L343.45 300.16L344.34 300.04L345.52 299.35L345.97 299.24L346.41 299.45L347.38 300.61L347.82 300.83L348.78 300.53L349.37 300.48L362.93 300.80" stroke="#00ff00" stroke-width="1.00"/>
<path d="M198.61 285.23L199.35 284.89L200.09 284.80L200.98 284.95L202.09 285.34L202.76 285.93L204.38 288.13L204.83 288.49L205.20 288.60L205.57 288.45L205.94 288.07L207.57 285.59L207.94 285.33L208.31 285.33L208.75 285.59L209.27 286.14L210.98 288.72L211.64 289.52L212.23 289.88L213.05 289.89L213.72 289.74L213.94 289.43L214.09 288.96L214.38 286.96L214.83 282.22L215.05 281.21L215.27 282.14L215.94 288.37L216.16 289.15L216.31 289.37L216.53 289.47L217.71 289.30L218.90 288.91L223.42 286.77L224.53 286.10L225.49 285.36L226.30 284.59L226.90 283.81L227.56 282.61L228.23 281.11L229.04 278.88L229.56 277.15L230.15 274.30L231.19 268.31L231.86 263.47L232.38 256.83L234.08 226.38L235.04 204.87L235.34 201.91L236 197.53L236.37 195.92L236.67 195.18L236.89 195L237.04 195.95L237.56 207.63L237.93 221.91L238.08 224.74L238.15 224.55L238.37 219.10L238.97 195.79L239.41 173.28L240.30 100.06L241.34 35.45L241.71 -8.90L241.78 -9L271.92 -9L273.84 94.98L274.44 146.40L274.88 163.51L276.88 207.29L277.25 217.77L277.55 230.68L277.77 234.77L278.29 240.77L280.36 257.43L280.95 261.27L281.69 264.34L282.43 266.56L283.62 269.55L284.80 272.18L285.99 274.48L287.17 276.49L288.65 278.70L290.21 280.80L291.76 282.68L293.24 284.26L294.73 285.65L297.02 287.55L299.39 289.34L301.61 290.86L303.83 292.23L306.13 293.49L308.43 294.61L313.24 296.67L316.57 297.91L319.53 298.78L322.27 299.28L330.86 300.06L343.15 300.69L344.27 300.57L345.52 299.85L345.97 299.74L346.41 299.94L347.38 301.10L347.75 301.31L348.78 301.02L349.37 300.97L362.93 301.40" stroke="#ff00ff" stroke-width="1.00"/>
</g>
<path d="M41.50 21.00H361.50V341.30H41.50ZM201.50 21.00V341.30" stroke="#000" stroke-width="1.15" fill="none"/>
<path d="M51.51 341.30L51.51 338.10M51.51 21.00L51.51 24.20M61.65 341.30L61.65 335.00M61.65 21.00L61.65 27.30M71.79 341.30L71.79 338.10M71.79 21.00L71.79 24.20M81.94 341.30L81.94 338.10M81.94 21.00L81.94 24.20M92.08 341.30L92.08 338.10M92.08 21.00L92.08 24.20M102.22 341.30L102.22 335.00M102.22 21.00L102.22 27.30M112.36 341.30L112.36 338.10M112.36 21.00L112.36 24.20M122.50 341.30L122.50 338.10M122.50 21.00L122.50 24.20M132.65 341.30L132.65 338.10M132.65 21.00L132.65 24.20M142.79 341.30L142.79 335.00M142.79 21.00L142.79 27.30M152.93 341.30L152.93 338.10M152.93 21.00L152.93 24.20M163.08 341.30L163.08 338.10M163.08 21.00L163.08 24.20M173.22 341.30L173.22 338.10M173.22 21.00L173.22 24.20M183.36 341.30L183.36 335.00M183.36 21.00L183.36 27.30M193.50 341.30L193.50 338.10M193.50 21.00L193.50 24.20M207.50 341.30L207.50 338.10M207.50 21.00L207.50 24.20M214.90 341.30L214.90 335.00M214.90 21.00L214.90 27.30M222.31 341.30L222.31 338.10M222.31 21.00L222.31 24.20M229.71 341.30L229.71 338.10M229.71 21.00L229.71 24.20M237.12 341.30L237.12 338.10M237.12 21.00L237.12 24.20M244.52 341.30L244.52 335.00M244.52 21.00L244.52 27.30M251.93 341.30L251.93 338.10M251.93 21.00L251.93 24.20M259.33 341.30L259.33 338.10M259.33 21.00L259.33 24.20M266.74 341.30L266.74 338.10M266.74 21.00L266.74 24.20M274.14 341.30L274.14 335.00M274.14 21.00L274.14 27.30M281.55 341.30L281.55 338.10M281.55 21.00L281.55 24.20M288.95 341.30L288.95 338.10M288.95 21.00L288.95 24.20M296.36 341.30L296.36 338.10M296.36 21.00L296.36 24.20M303.76 341.30L303.76 335.00M303.76 21.00L303.76 27.30M311.17 341.30L311.17 338.10M311.17 21.00L311.17 24.20M318.57 341.30L318.57 338.10M318.57 21.00L318.57 24.20M325.98 341.30L325.98 338.10M325.98 21.00L325.98 24.20M333.38 341.30L333.38 335.00M333.38 21.00L333.38 27.30M340.79 341.30L340.79 338.10M340.79 21.00L340.79 24.20M348.19 341.30L348.19 338.10M348.19 21.00L348.19 24.20M355.60 341.30L355.60 338.10M355.60 21.00L355.60 24.20M41.50 338.93L44.70 338.93M41.50 323.40L47.80 323.40M41.50 307.87L44.70 307.87M41.50 292.35L44.70 292.35M41.50 276.82L44.70 276.82M41.50 261.30L44.70 261.30M41.50 245.77L47.80 245.77M41.50 230.24L44.70 230.24M41.50 214.72L44.70 214.72M41.50 199.19L44.70 199.19M41.50 183.67L44.70 183.67M41.50 168.14L47.80 168.14M41.50 152.61L44.70 152.61M41.50 137.09L44.70 137.09M41.50 121.56L44.70 121.56M41.50 106.04L44.70 106.04M41.50 90.51L47.80 90.51M41.50 74.98L44.70 74.98M41.50 59.46L44.70 59.46M41.50 43.93L44.70 43.93M41.50 28.41L44.70 28.41M361.50 329.75L358.30 329.75M361.50 301.70L355.20 301.70M361.50 273.65L358.30 273.65M361.50 245.60L358.30 245.60M361.50 217.55L358.30 217.55M361.50 189.50L355.20 189.50M361.50 161.45L358.30 161.45M361.50 133.40L358.30 133.40M361.50 105.35L358.30 105.35M361.50 77.30L355.20 77.30M361.50 49.25L358.30 49.25" stroke="#000" stroke-width="0.85" fill="none" stroke-linecap="butt"/>
<text x="50.75" y="352.5" font-family="Liberation Sans, sans-serif" font-size="9.1" textLength="22.3" lengthAdjust="spacingAndGlyphs" stroke="#000" stroke-width="0.22">4660</text>
<text x="91.32" y="352.5" font-family="Liberation Sans, sans-serif" font-size="9.1" textLength="22.3" lengthAdjust="spacingAndGlyphs" stroke="#000" stroke-width="0.22">4680</text>
<text x="131.89" y="352.5" font-family="Liberation Sans, sans-serif" font-size="9.1" textLength="22.3" lengthAdjust="spacingAndGlyphs" stroke="#000" stroke-width="0.22">4700</text>
<text x="172.46" y="352.5" font-family="Liberation Sans, sans-serif" font-size="9.1" textLength="22.3" lengthAdjust="spacingAndGlyphs" stroke="#000" stroke-width="0.22">4720</text>
<text x="204.00" y="352.5" font-family="Liberation Sans, sans-serif" font-size="9.1" textLength="22.3" lengthAdjust="spacingAndGlyphs" stroke="#000" stroke-width="0.22">4660</text>
<text x="233.62" y="352.5" font-family="Liberation Sans, sans-serif" font-size="9.1" textLength="22.3" lengthAdjust="spacingAndGlyphs" stroke="#000" stroke-width="0.22">4680</text>
<text x="263.24" y="352.5" font-family="Liberation Sans, sans-serif" font-size="9.1" textLength="22.3" lengthAdjust="spacingAndGlyphs" stroke="#000" stroke-width="0.22">4700</text>
<text x="292.86" y="352.5" font-family="Liberation Sans, sans-serif" font-size="9.1" textLength="22.3" lengthAdjust="spacingAndGlyphs" stroke="#000" stroke-width="0.22">4720</text>
<text x="322.48" y="352.5" font-family="Liberation Sans, sans-serif" font-size="9.1" textLength="22.3" lengthAdjust="spacingAndGlyphs" stroke="#000" stroke-width="0.22">4740</text>
<text x="30.8" y="327.10" font-family="Liberation Sans, sans-serif" font-size="9.6" textLength="5.2" lengthAdjust="spacingAndGlyphs" stroke="#000" stroke-width="0.24">1</text>
<text x="30.8" y="249.47" font-family="Liberation Sans, sans-serif" font-size="9.6" textLength="5.2" lengthAdjust="spacingAndGlyphs" stroke="#000" stroke-width="0.24">2</text>
<text x="30.8" y="171.84" font-family="Liberation Sans, sans-serif" font-size="9.6" textLength="5.2" lengthAdjust="spacingAndGlyphs" stroke="#000" stroke-width="0.24">3</text>
<text x="30.8" y="94.21" font-family="Liberation Sans, sans-serif" font-size="9.6" textLength="5.2" lengthAdjust="spacingAndGlyphs" stroke="#000" stroke-width="0.24">4</text>
<text x="367.7" y="304.80" font-family="Liberation Serif, serif" font-size="10.2" textLength="4.6" lengthAdjust="spacingAndGlyphs" stroke="#000" stroke-width="0.32">1</text>
<text x="367.7" y="192.60" font-family="Liberation Serif, serif" font-size="10.2" textLength="12.8" lengthAdjust="spacingAndGlyphs" stroke="#000" stroke-width="0.32">1.2</text>
<text x="367.7" y="80.40" font-family="Liberation Serif, serif" font-size="10.2" textLength="12.8" lengthAdjust="spacingAndGlyphs" stroke="#000" stroke-width="0.32">1.4</text>
<text y="368" font-family="Liberation Serif, serif" font-size="10.2" font-weight="bold"><tspan x="192.2">λ</tspan><tspan x="201.5">Å</tspan></text>
<text transform="translate(196.9 368.3) scale(1.3 1)" font-family="Liberation Serif, serif" font-size="11.2" font-weight="bold">[</text>
<text transform="translate(207.0 368.3) scale(1.3 1)" font-family="Liberation Serif, serif" font-size="11.2" font-weight="bold">]</text>
<text transform="translate(25.7 219.1) rotate(-90)" font-family="Liberation Serif, serif" font-size="9.4" stroke="#000" stroke-width="0.3" textLength="75.9" lengthAdjust="spacingAndGlyphs">Normalized flux</text>
<path d="M296.2 48.90H311.2" stroke="#ffff00" stroke-width="1.1"/>
<text x="319.0 323.5 329.6 335.0 338.2" y="49.90" font-family="Liberation Sans, sans-serif" font-size="9.1" fill="#ffff00" stroke="#ffff00" stroke-width="0.3"><tspan font-family="Liberation Serif, serif" font-size="9.8" stroke-width="0.4">f</tspan>=0.5</text>
<path d="M296.2 76.95H311.2" stroke="#00ffff" stroke-width="1.1"/>
<text x="319.0 323.5 329.6 335.0 338.2" y="77.95" font-family="Liberation Sans, sans-serif" font-size="9.1" fill="#00ffff" stroke="#00ffff" stroke-width="0.3"><tspan font-family="Liberation Serif, serif" font-size="9.8" stroke-width="0.4">f</tspan>=0.4</text>
<path d="M296.2 105.00H311.2" stroke="#0000ff" stroke-width="1.1"/>
<text x="319.0 323.5 329.6 335.0 338.2" y="106.00" font-family="Liberation Sans, sans-serif" font-size="9.1" fill="#0000ff" stroke="#0000ff" stroke-width="0.3"><tspan font-family="Liberation Serif, serif" font-size="9.8" stroke-width="0.4">f</tspan>=0.3</text>
<path d="M296.2 133.05H311.2" stroke="#ff00ff" stroke-width="1.1"/>
<text x="319.0 323.5 329.6 335.0 338.2" y="134.05" font-family="Liberation Sans, sans-serif" font-size="9.1" fill="#ff00ff" stroke="#ff00ff" stroke-width="0.3"><tspan font-family="Liberation Serif, serif" font-size="9.8" stroke-width="0.4">f</tspan>=0.2</text>
<path d="M296.2 161.10H311.2" stroke="#ff0000" stroke-width="1.1"/>
<text x="319.0 323.5 329.6 335.0 338.2" y="162.10" font-family="Liberation Sans, sans-serif" font-size="9.1" fill="#ff0000" stroke="#ff0000" stroke-width="0.3"><tspan font-family="Liberation Serif, serif" font-size="9.8" stroke-width="0.4">f</tspan>=0.1</text>
<path d="M296.2 189.15H311.2" stroke="#00ff00" stroke-width="1.1"/>
<text x="319.0 323.5 329.6 335.0 338.2 343.8" y="190.15" font-family="Liberation Sans, sans-serif" font-size="9.1" fill="#00ff00" stroke="#00ff00" stroke-width="0.3"><tspan font-family="Liberation Serif, serif" font-size="9.8" stroke-width="0.4">f</tspan>=0.05</text>
<path d="M296.2 217.20H311.2" stroke="#ff00ff" stroke-width="1.1"/>
<text x="319.0 323.5 329.6 335.0 338.2 343.8" y="218.20" font-family="Liberation Sans, sans-serif" font-size="9.1" fill="#ff00ff" stroke="#ff00ff" stroke-width="0.3"><tspan font-family="Liberation Serif, serif" font-size="9.8" stroke-width="0.4">f</tspan>=0.01</text>
</svg>
</body></html>
